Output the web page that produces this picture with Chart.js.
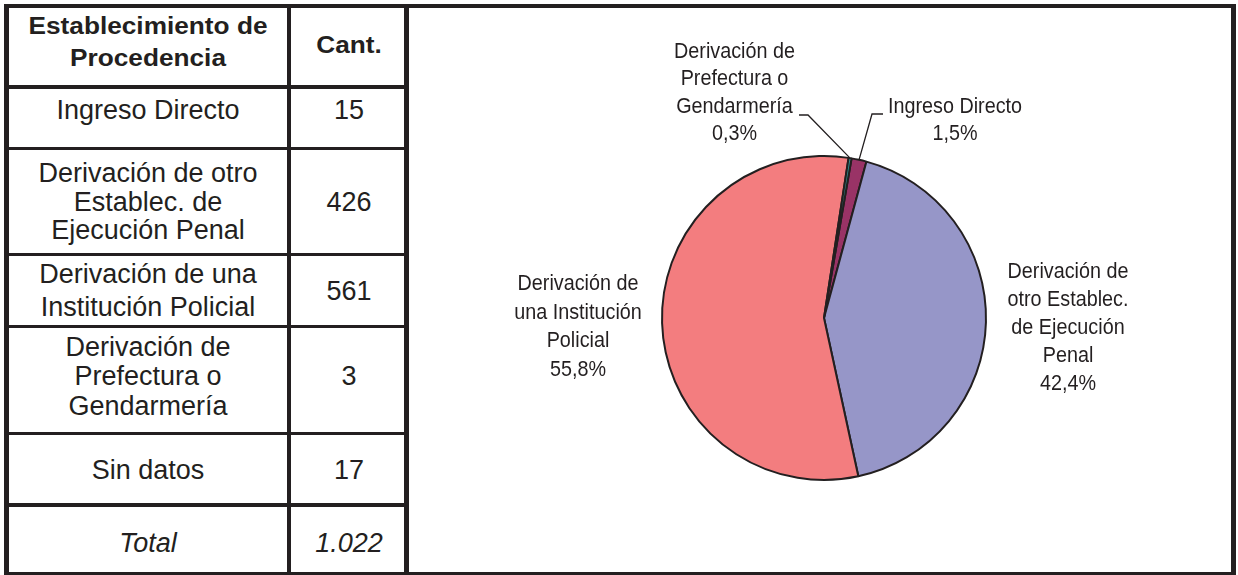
<!DOCTYPE html>
<html>
<head>
<meta charset="utf-8">
<script src="https://cdn.jsdelivr.net/npm/chart.js@4"></script>
<style>
  body { margin: 0; background: #fff; }
  #page { position: relative; width: 1238px; height: 575px; overflow: hidden; font-family: "Liberation Sans", Arial, sans-serif; color: #231f20; }
  .ln { position: absolute; background: #231f20; }
  .tx { position: absolute; white-space: nowrap; line-height: 1; font-size: 27px; transform: translate(-50%, -50%); }
  .hd { font-weight: bold; font-size: 23px; transform: translate(-50%, -50%) scaleX(1.14); }
  .it { font-style: italic; }
  #chart { position: absolute; left: 409px; top: 8px; }
</style>
</head>
<body>
<div id="page">
  <canvas id="chart" width="822" height="564"></canvas>
</div>
<script>
// ---- data -----------------------------------------------------------
const tableHeader = [["Establecimiento de", "Procedencia"], ["Cant."]];
const tableRows = [
  ["Ingreso Directo"],
  ["Derivación de otro", "Establec. de", "Ejecución Penal"],
  ["Derivación de una", "Institución Policial"],
  ["Derivación de", "Prefectura o", "Gendarmería"],
  ["Sin datos"],
];
const counts = [15, 426, 561, 3, 17];
const totalLabel = "Total";

// pie uses the first four rows (no "Sin datos")
const pieCategories = ["Ingreso Directo", "Derivación de otro Establec. de Ejecución Penal", "Derivación de una Institución Policial", "Derivación de Prefectura o Gendarmería"];
const pieValues = [15, 426, 561, 3];
const pieLabelLines = [
  ["Ingreso Directo"],
  ["Derivación de", "otro Establec.", "de Ejecución", "Penal"],
  ["Derivación de", "una Institución", "Policial"],
  ["Derivación de", "Prefectura o", "Gendarmería"],
];
const pieColors = ["#993366", "#9696c8", "#f37d7f", "#2f8f8f"];

// ---- table ----------------------------------------------------------
const page = document.getElementById("page");
function line(x, y, w, h) {
  const d = document.createElement("div");
  d.className = "ln";
  Object.assign(d.style, { left: x + "px", top: y + "px", width: w + "px", height: h + "px" });
  page.appendChild(d);
}
function text(str, cx, cy, cls) {
  const d = document.createElement("div");
  d.className = "tx" + (cls ? " " + cls : "");
  d.textContent = str;
  d.style.left = cx + "px";
  d.style.top = cy + "px";
  page.appendChild(d);
}

// frame + grid
line(4, 4, 1232, 4);
line(4, 4, 5, 571);
line(1231, 4, 5, 571);
line(4, 572, 1232, 3);
line(404, 4, 5, 571);
line(287, 4, 4, 571);
line(4, 85, 402, 4);
[147, 253, 325, 432].forEach((y) => line(4, y, 402, 3));
line(4, 503, 402, 4);

const col1 = 148, col2 = 349;
const headerY = [[26, 58], [45]];
tableHeader[0].forEach((s, i) => text(s, col1, headerY[0][i], "hd"));
text(tableHeader[1][0], col2, headerY[1][0], "hd");

const rowLineY = [[110], [173, 202, 230], [274, 307], [347, 376, 406], [470]];
const rowNumY = [110, 202, 291, 376, 470];
tableRows.forEach((lines, r) => {
  lines.forEach((s, i) => text(s, col1, rowLineY[r][i]));
  text(String(counts[r]), col2, rowNumY[r]);
});
const total = counts.reduce((a, b) => a + b, 0);
text(totalLabel, col1, 543, "it");
text(String(total).replace(/\B(?=(\d{3})+(?!\d))/g, "."), col2, 543, "it");

// ---- pie ------------------------------------------------------------
const pieSum = pieValues.reduce((a, b) => a + b, 0);
const pct = (v) => ((v / pieSum) * 100).toFixed(1).replace(".", ",") + "%";

// label anchors (canvas coords) and optional leader elbow
const labelPos = [
  { x: 546, y: 99, lineH: 27, leader: [[474, 106], [463, 106]] },
  { x: 659, y: 264, lineH: 28 },
  { x: 169, y: 276, lineH: 28.7 },
  { x: 325.5, y: 44, lineH: 27.3, leader: [[390, 107], [399, 107]] },
];

const pieLabels = {
  id: "pieLabels",
  afterDraw(chart) {
    const ctx = chart.ctx;
    const arcs = chart.getDatasetMeta(0).data;
    ctx.save();
    ctx.fillStyle = "#231f20";
    ctx.strokeStyle = "#231f20";
    ctx.lineWidth = 1.3;
    ctx.font = '21.5px "Liberation Sans", Arial, sans-serif';
    ctx.textAlign = "center";
    ctx.textBaseline = "middle";
    labelPos.forEach((p, i) => {
      const lines = [...pieLabelLines[i], pct(pieValues[i])];
      lines.forEach((s, k) => {
        // slightly condensed lettering, like the original
        ctx.save();
        ctx.translate(p.x, p.y + k * p.lineH);
        ctx.scale(0.92, 1);
        ctx.fillText(s, 0, 0);
        ctx.restore();
      });
      if (p.leader) {
        const a = arcs[i];
        const mid = (a.startAngle + a.endAngle) / 2;
        const ex = a.x + Math.cos(mid) * a.outerRadius;
        const ey = a.y + Math.sin(mid) * a.outerRadius;
        ctx.beginPath();
        ctx.moveTo(p.leader[0][0], p.leader[0][1]);
        ctx.lineTo(p.leader[1][0], p.leader[1][1]);
        ctx.lineTo(ex, ey);
        ctx.stroke();
      }
    });
    ctx.restore();
  },
};

new Chart(document.getElementById("chart"), {
  type: "pie",
  data: {
    labels: pieCategories,
    datasets: [
      {
        data: pieValues,
        backgroundColor: pieColors,
        borderColor: "#231f20",
        borderWidth: 2,
      },
    ],
  },
  options: {
    responsive: false,
    devicePixelRatio: 1,
    animation: false,
    rotation: 9.8,
    layout: { padding: { left: 252, right: 244, top: 147, bottom: 91 } },
    plugins: { legend: { display: false }, tooltip: { enabled: false } },
  },
  plugins: [pieLabels],
});
</script>
</body>
</html>
